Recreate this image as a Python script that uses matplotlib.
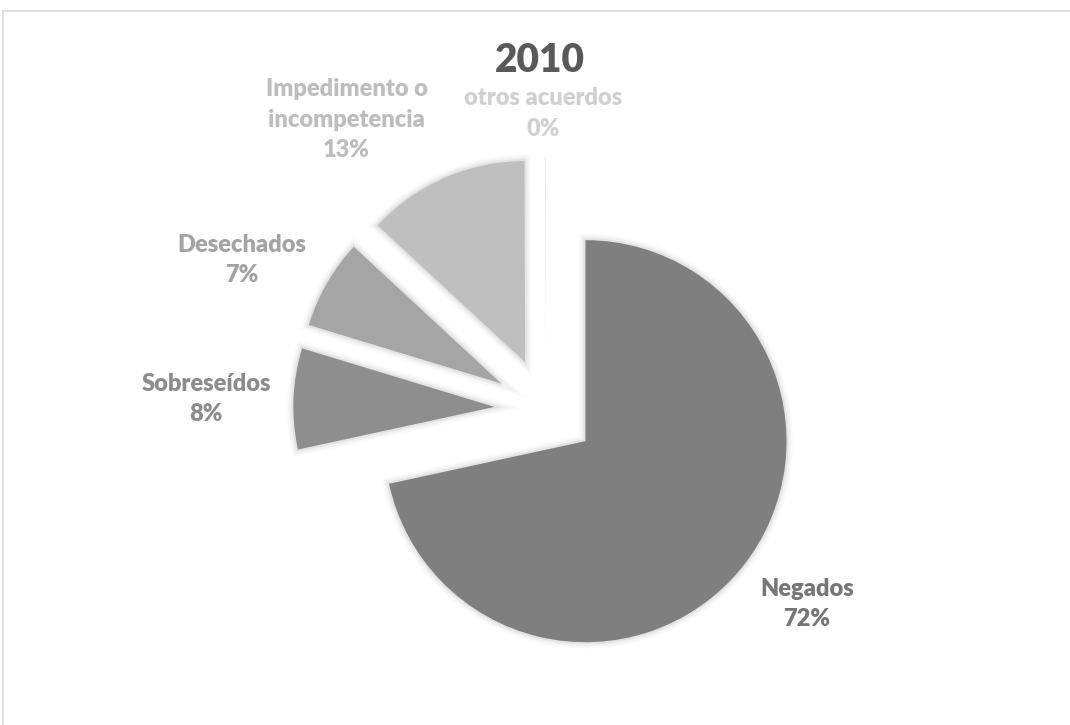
import matplotlib
matplotlib.use("Agg")
import matplotlib.pyplot as plt
import matplotlib.patheffects as pe
from matplotlib.patches import Rectangle

plt.rcParams['font.family'] = ['Lato', 'DejaVu Sans']

# data
categories = ["Negados", "Sobreseídos", "Desechados", "Impedimento o\nincompetencia", "otros acuerdos"]
values = [71.6, 8.1, 7.2, 13.05, 0.05]
title = "2010"

# styles
slice_colors = ["#7f7f7f", "#8e8e8e", "#a5a5a5", "#bfbfbf", "#d9d9d9"]
label_colors = ["#767676", "#8c8c8c", "#a3a3a3", "#bdbdbd", "#d0d0d0"]
# label centres in pie units (radius = 1), relative to pie centre
label_pos = [(1.30, -0.97), (-1.69, 0.05), (-1.51, 0.74), (-0.99, 1.44), (-0.01, 1.47)]

W, H = 1070, 725
cx, cy, r = 545.6, 409, 201.0      # pie centre / radius in pixels

fig = plt.figure(figsize=(W / 100, H / 100), dpi=100)
ax = fig.add_axes([0, 0, 1, 1])

shadow = [pe.Stroke(linewidth=9, foreground='#000000', alpha=0.025),
          pe.Stroke(linewidth=6, foreground='#000000', alpha=0.035),
          pe.Stroke(linewidth=3, foreground='#000000', alpha=0.05),
          pe.Normal()]

wedges, _ = ax.pie(values, colors=slice_colors, startangle=90, counterclock=False,
                   explode=[0.255] * len(values), radius=1,
                   wedgeprops=dict(linewidth=0, edgecolor='none'))
for w, v in zip(wedges, values):
    if v / sum(values) > 0.01:
        w.set_path_effects(shadow)

ax.set_xlim(-cx / r, (W - cx) / r)
ax.set_ylim(-(H - cy) / r, cy / r)
ax.axis('off')

total = sum(values)
for cat, v, col, (lx, ly) in zip(categories, values, label_colors, label_pos):
    ax.text(lx, ly, f"{cat}\n{v / total * 100:.0f}%", ha='center', va='center',
            fontsize=17, fontweight=800, color=col, linespacing=1.45)

fig.text(540 / W, 1 - 61 / H, title, ha='center', va='center',
         fontsize=28, fontweight=800, color='#595959')

fig.add_artist(Rectangle((3 / W, -0.1), 1.2, 1.1 - 11 / H, transform=fig.transFigure,
                         fill=False, edgecolor='#d9d9d9', linewidth=1.2))

fig.savefig("out.png", dpi=100)
